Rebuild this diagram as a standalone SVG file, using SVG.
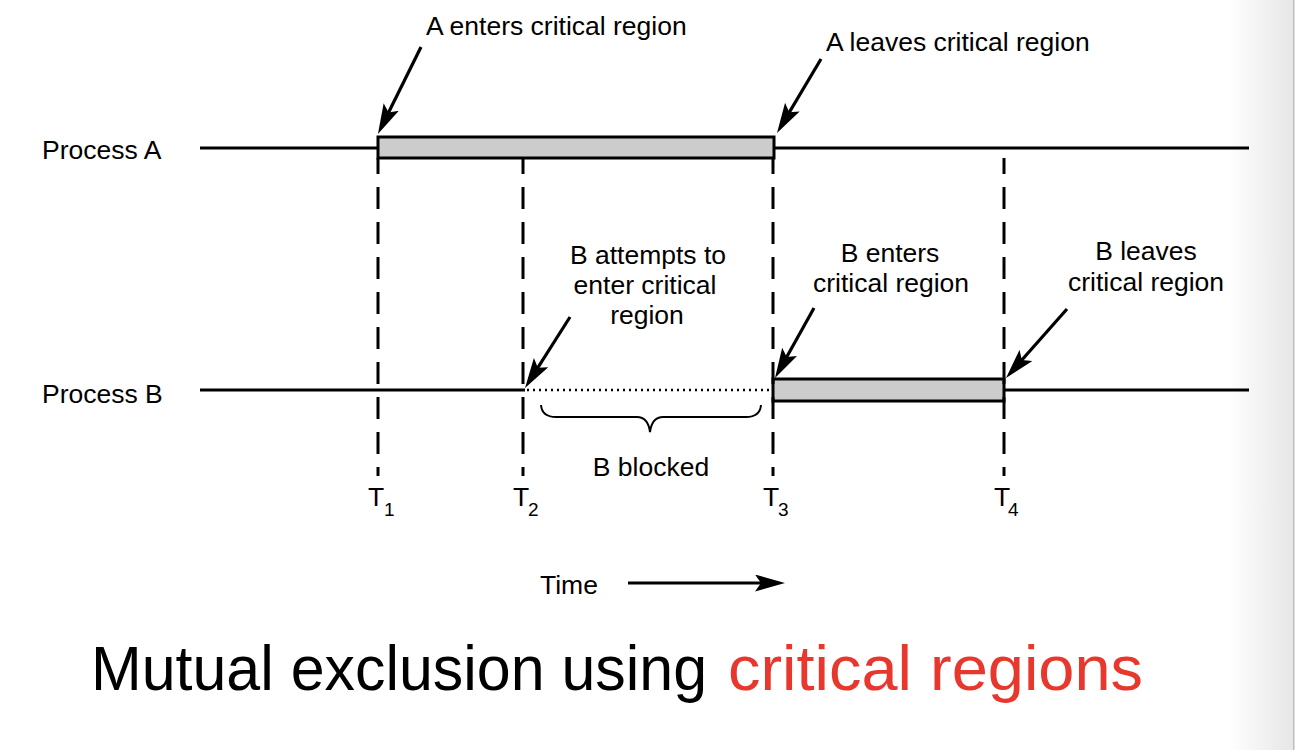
<svg xmlns="http://www.w3.org/2000/svg" width="1296" height="750" viewBox="0 0 1296 750">
<defs>
<marker id="ah" markerUnits="userSpaceOnUse" markerWidth="32" markerHeight="18" refX="22" refY="8.5" orient="auto">
<path d="M0,0 L30,8.5 L0,17 L6,8.5 z" fill="#000"/>
</marker>
<linearGradient id="edge" x1="0" y1="0" x2="1" y2="0">
<stop offset="0" stop-color="#ffffff"/>
<stop offset="1" stop-color="#e6e6e6"/>
</linearGradient>
</defs>
<style>
text{font-family:"Liberation Sans",Arial,Helvetica,sans-serif;fill:#000}
.lbl{font-size:26.5px}
.mid{text-anchor:middle}
.sub{font-size:19px}
.tl{stroke:#000;stroke-width:3;fill:none}
.box{fill:#cccccc;stroke:#000;stroke-width:3}
.dash{stroke:#000;stroke-width:3;stroke-dasharray:22 13;stroke-dashoffset:6}
.arr{stroke:#000;stroke-width:3.2;fill:none;marker-end:url(#ah)}
.title{font-size:63px}
</style>
<rect width="1296" height="750" fill="#fff"/>
<rect x="1228" y="0" width="66" height="750" fill="url(#edge)"/>
<rect x="1293" y="0" width="1.5" height="750" fill="#bdbdbd"/>

<g id="processA">
<text class="lbl" x="42" y="159">Process A</text>
<line class="tl" x1="200" y1="148" x2="1249" y2="148"/>
<rect class="box" x="378" y="137" width="396" height="21"/>
</g>
<g id="processB">
<text class="lbl" x="42" y="403">Process B</text>
<line class="tl" x1="200" y1="390" x2="525" y2="390"/>
<line x1="527" y1="390" x2="773" y2="390" stroke="#000" stroke-width="2.5" stroke-dasharray="2 4"/>
<line class="tl" x1="1004" y1="390" x2="1249" y2="390"/>
<rect class="box" x="773" y="379" width="231" height="22"/>
</g>

<g id="timemarks">
<line class="dash" x1="378" y1="158" x2="378" y2="476"/>
<line class="dash" x1="523" y1="158" x2="523" y2="476"/>
<line class="dash" x1="773" y1="158" x2="773" y2="476"/>
<line class="dash" x1="1004" y1="158" x2="1004" y2="476"/>
<text class="lbl" x="368" y="506">T<tspan class="sub" x="384" y="516">1</tspan></text>
<text class="lbl" x="513" y="506">T<tspan class="sub" x="528" y="516">2</tspan></text>
<text class="lbl" x="763" y="506">T<tspan class="sub" x="778" y="516">3</tspan></text>
<text class="lbl" x="994" y="506">T<tspan class="sub" x="1008" y="516">4</tspan></text>
</g>

<g id="labels">
<text class="lbl" x="426" y="35">A enters critical region</text>
<text class="lbl" x="826" y="51">A leaves critical region</text>
<text class="lbl mid" x="648" y="264">B attempts to</text>
<text class="lbl mid" x="645" y="294">enter critical</text>
<text class="lbl mid" x="647" y="324">region</text>
<text class="lbl mid" x="890" y="262">B enters</text>
<text class="lbl mid" x="891" y="292">critical region</text>
<text class="lbl mid" x="1146" y="260">B leaves</text>
<text class="lbl mid" x="1146" y="291">critical region</text>
<text class="lbl mid" x="651" y="476">B blocked</text>
<text class="lbl" x="540" y="594">Time</text>
</g>

<g id="connectors">
<line class="arr" x1="421" y1="47" x2="381.5" y2="126.8"/>
<line class="arr" x1="821" y1="59" x2="781.1" y2="126.1"/>
<line class="arr" x1="570" y1="317" x2="529.3" y2="381.2"/>
<line class="arr" x1="814" y1="308" x2="778.9" y2="371"/>
<line class="arr" x1="1067" y1="309" x2="1011.3" y2="372"/>
<line class="arr" x1="628" y1="583" x2="777" y2="583"/>
<path d="M541,405 Q542,417 556,417 L637,417 Q648,417 650,432 Q652,417 663,417 L746,417 Q760,417 761,405" fill="none" stroke="#000" stroke-width="2"/>
</g>

<g id="title">
<text class="title" x="91" y="690" textLength="616" lengthAdjust="spacingAndGlyphs">Mutual exclusion using</text>
<text class="title" x="728" y="690" textLength="415" lengthAdjust="spacingAndGlyphs" style="fill:#e8372c">critical regions</text>
</g>
</svg>
